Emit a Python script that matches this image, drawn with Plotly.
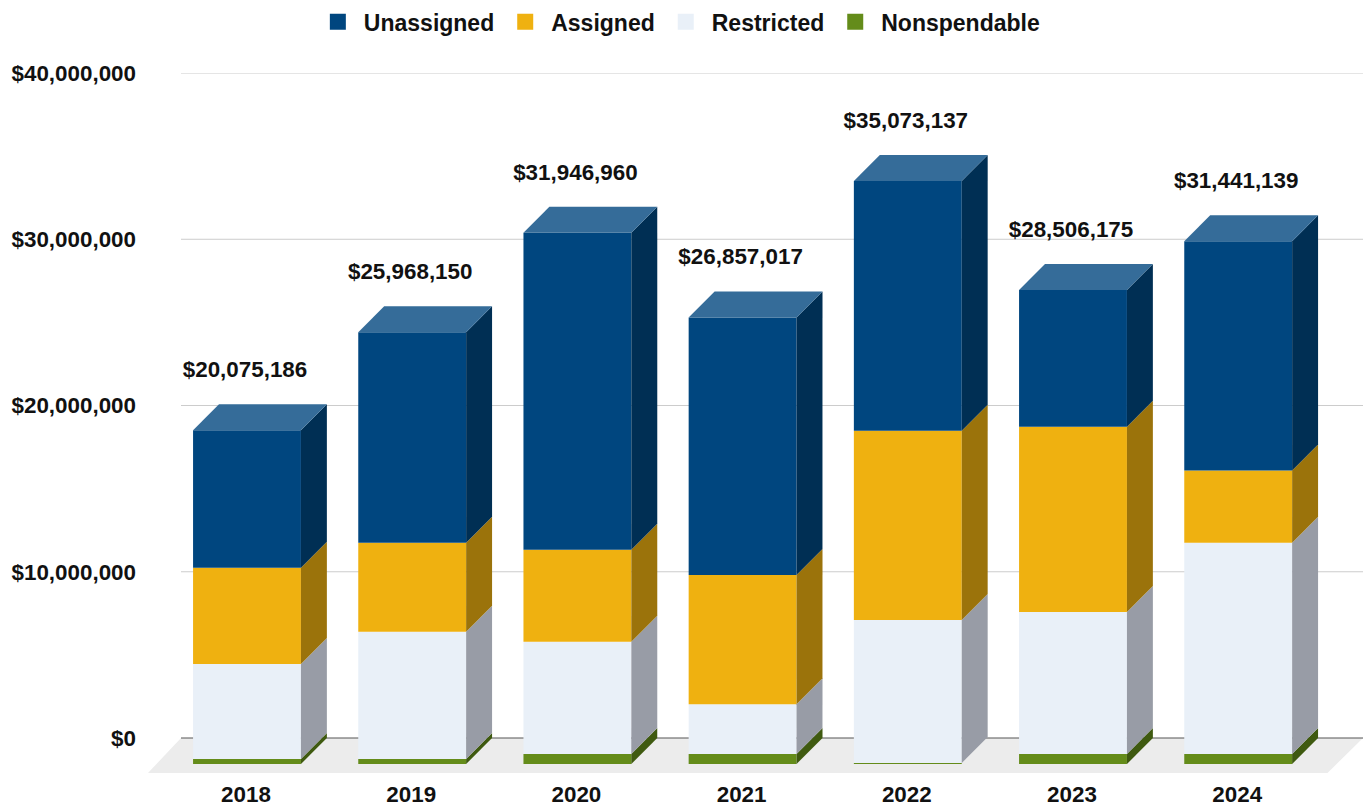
import plotly.graph_objects as go

years = ["2018", "2019", "2020", "2021", "2022", "2023", "2024"]
total_labels = ["$20,075,186", "$25,968,150", "$31,946,960", "$26,857,017",
                "$35,073,137", "$28,506,175", "$31,441,139"]
nonspendable = [0.30e6, 0.30e6, 0.60e6, 0.60e6, 0.06e6, 0.60e6, 0.60e6]
restricted = [5.72e6, 7.65e6, 6.75e6, 3.00e6, 8.60e6, 8.55e6, 12.71e6]
assigned = [5.78e6, 5.36e6, 5.54e6, 7.77e6, 11.39e6, 11.14e6, 4.34e6]
unassigned = [8.27e6, 12.66e6, 19.06e6, 15.49e6, 15.02e6, 8.22e6, 13.79e6]
y_ticks = [0, 10e6, 20e6, 30e6, 40e6]
y_tick_labels = ["$0", "$10,000,000", "$20,000,000", "$30,000,000", "$40,000,000"]

series = [
    ("Nonspendable", nonspendable, "#648c1a", "#3f5a10"),
    ("Restricted", restricted, "#e9f0f8", "#989ca6"),
    ("Assigned", assigned, "#efb110", "#9b730b"),
    ("Unassigned", unassigned, "#00467f", "#002f54"),
]
top_colour = "#356c99"

BAR_W = 0.653
DX = 0.157
DY = 1.564e6
FONT = "Liberation Sans"
SIZE = 22.4
TEXT = "#111111"
x = list(range(len(years)))
fig = go.Figure()


def poly(xs, ys, colour):
    fig.add_trace(go.Scatter(x=xs, y=ys, mode="lines", fill="toself", fillcolor=colour,
                             line=dict(width=0, color=colour), showlegend=False,
                             hoverinfo="skip"))


bottom = [0.0] * len(x)
for name, vals, front, side in series:
    fig.add_trace(go.Bar(x=x, y=vals, base=[b - DY for b in bottom], width=BAR_W,
                         marker=dict(color=front, line=dict(width=0)),
                         name=name, showlegend=False))
    for i, v in enumerate(vals):
        xr = i + BAR_W / 2
        b, t = bottom[i], bottom[i] + v
        poly([xr, xr + DX, xr + DX, xr, xr], [b - DY, b, t, t - DY, b - DY], side)
    bottom = [b + v for b, v in zip(bottom, vals)]

for i, t in enumerate(bottom):
    xl, xr = i - BAR_W / 2, i + BAR_W / 2
    poly([xl, xr, xr + DX, xl + DX, xl], [t - DY, t - DY, t, t, t - DY], top_colour)

# native legend, in the reference's order
for name, vals, front, side in reversed(series):
    fig.add_trace(go.Scatter(x=[None], y=[None], mode="markers", name=name,
                             marker=dict(symbol="square", size=19, color=front)))

fig.add_trace(go.Scatter(x=[i - 0.012 for i in x],
                         y=[t - DY + 3.53e6 for t in bottom],
                         mode="text", text=total_labels, textposition="middle center",
                         textfont=dict(family=FONT, size=SIZE, color=TEXT, weight="bold"),
                         showlegend=False, hoverinfo="skip"))

PX = 165.2
XMIN, XMAX = -99 / PX, 1116 / PX
WALL = -66 / PX
YMIN = -35 / 16.625 * 1e6
shapes = [dict(type="path", layer="below", xref="x", yref="y", line=dict(width=0),
               fillcolor="#ececec",
               path=f"M {XMIN} {YMIN} L {WALL} 0 L {XMAX} 0 L {XMAX - 0.215} {YMIN} Z")]
for t in y_ticks:
    shapes.append(dict(type="line", layer="below", xref="x", yref="y", x0=WALL, x1=XMAX,
                       y0=t, y1=t, line=dict(color="#555555" if t == 0 else "#cccccc", width=1)))

fig.update_layout(
    width=1363, height=808, autosize=False,
    plot_bgcolor="white", paper_bgcolor="white",
    barmode="overlay",
    margin=dict(l=148, r=0, t=73, b=35),
    shapes=shapes,
    font=dict(family=FONT, size=SIZE, color=TEXT),
    legend=dict(orientation="h", x=0.4365, xanchor="center", xref="paper", y=1.104, yanchor="top",
                yref="paper", itemwidth=42,
                font=dict(family=FONT, size=23, color=TEXT, weight="bold"),
                traceorder="normal", itemclick=False, itemdoubleclick=False),
    xaxis=dict(range=[XMIN, XMAX], tickmode="array", tickvals=[i - 0.006 for i in x],
               ticktext=years, showgrid=False, zeroline=False, showline=False, ticks="",
               ticklabelstandoff=6,
               tickfont=dict(family=FONT, size=SIZE, color=TEXT, weight="bold")),
    yaxis=dict(range=[YMIN, 40e6], tickmode="array", tickvals=y_ticks, ticktext=y_tick_labels,
               showgrid=False, zeroline=False, showline=False, ticks="", ticklabelstandoff=11,
               tickfont=dict(family=FONT, size=SIZE, color=TEXT, weight="bold")),
)
fig.write_html("out.html", config={"displayModeBar": False},
               post_script="document.body.style.margin='0';")
